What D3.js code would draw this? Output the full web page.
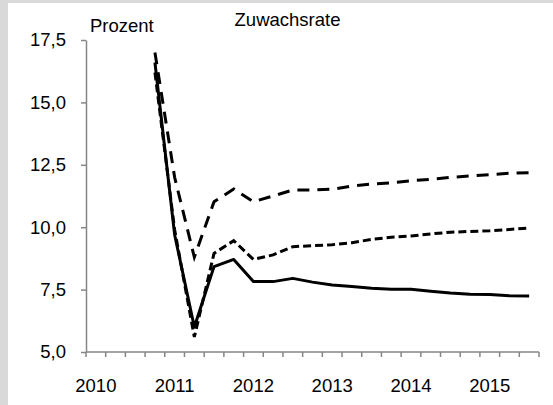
<!DOCTYPE html>
<html><head><meta charset="utf-8">
<script src="https://cdn.jsdelivr.net/npm/d3@7"></script>
<style>
html,body{margin:0;padding:0;background:#d9d9d9;}
svg{display:block;}
text{font-family:"Liberation Sans",Arial,sans-serif;fill:#000;}
</style></head>
<body>
<svg id="c" width="553" height="405"></svg>
<script>
// quarters 2010Q1 .. 2015Q3
const years = [2010, 2011, 2012, 2013, 2014, 2015];
const quarters = [];
years.forEach(yr => [1,2,3,4].forEach(q => { if (!(yr === 2015 && q === 4)) quarters.push(yr + "Q" + q); }));
const yTicks = [5.0, 7.5, 10.0, 12.5, 15.0, 17.5];
// series start at 2010Q4
const startIndex = 3;
const seriesSolid = [16.6, 9.7, 6.0, 8.42, 8.71, 7.82, 7.82, 7.95, 7.8, 7.68, 7.62, 7.55, 7.51, 7.51, 7.43, 7.36, 7.31, 7.3, 7.25, 7.24];
const seriesShort = [16.2, 9.9, 5.6, 8.95, 9.46, 8.71, 8.89, 9.22, 9.26, 9.3, 9.38, 9.51, 9.6, 9.65, 9.73, 9.8, 9.83, 9.86, 9.91, 9.97];
const seriesLong  = [17.0, 12.0, 8.8, 11.02, 11.53, 11.02, 11.25, 11.49, 11.49, 11.52, 11.65, 11.73, 11.78, 11.86, 11.92, 12.0, 12.05, 12.1, 12.16, 12.18];

(function () {
const FS = 18.5;
const svg = d3.select("#c");
svg.append("rect").attr("x", 8).attr("y", 3).attr("width", 545).attr("height", 402).attr("fill", "#fff");

const mLeft = 86, mRight = 539, mTop = 40, mBottom = 352;
const x = d3.scaleBand().domain(quarters).range([mLeft, mRight]).padding(0);
const y = d3.scaleLinear().domain([5, 17.5]).range([mBottom, mTop]);
const fmt = d => d3.format(".1f")(d).replace(".", ",");

// y axis
const ya = svg.append("g").attr("transform", `translate(${mLeft},0)`)
  .call(d3.axisLeft(y).tickValues(yTicks).tickFormat(fmt).tickSize(5).tickSizeOuter(0).tickPadding(15));
ya.select(".domain").attr("stroke", "#868686").attr("stroke-width", 1.5);
ya.selectAll(".tick line").attr("stroke", "#868686").attr("stroke-width", 1.5);
ya.selectAll(".tick text").attr("font-size", FS).attr("font-family", "Liberation Sans, Arial, sans-serif").attr("fill", "#000");

// x axis with tick at each category boundary
const xa = svg.append("g").attr("transform", `translate(0,${mBottom})`);
xa.append("line").attr("x1", mLeft).attr("x2", mRight).attr("y1", 0).attr("y2", 0)
  .attr("stroke", "#868686").attr("stroke-width", 1.5);
const bounds = quarters.map(q => x(q)).concat([x(quarters[quarters.length - 1]) + x.bandwidth()]);
xa.selectAll("line.t").data(bounds).enter().append("line").attr("class", "t")
  .attr("x1", d => d).attr("x2", d => d).attr("y1", 0).attr("y2", 5)
  .attr("stroke", "#868686").attr("stroke-width", 1.5);
xa.selectAll("text.yl").data(years).enter().append("text").attr("class", "yl")
  .attr("x", d => x(d + "Q1") + x.bandwidth() / 2).attr("y", 40)
  .attr("text-anchor", "middle").attr("font-size", FS).text(d => d);

// lines
const line = d3.line().x(d => x(d.q) + x.bandwidth() / 2).y(d => y(d.v));
function mk(arr) { return arr.map((v, i) => ({ q: quarters[startIndex + i], v })); }
const g = svg.append("g");
g.append("path").datum(mk(seriesShort)).attr("d", line).attr("fill", "none")
  .attr("stroke", "#000").attr("stroke-width", 3).attr("stroke-dasharray", "8,4");
g.append("path").datum(mk(seriesLong)).attr("d", line).attr("fill", "none")
  .attr("stroke", "#000").attr("stroke-width", 3).attr("stroke-dasharray", "12,8");
g.append("path").datum(mk(seriesSolid)).attr("d", line).attr("fill", "none")
  .attr("stroke", "#000").attr("stroke-width", 3).attr("stroke-linejoin", "round");

// labels
svg.append("text").attr("x", 90).attr("y", 31.5).attr("font-size", FS).text("Prozent");
svg.append("text").attr("x", 287.5).attr("y", 25.5).attr("text-anchor", "middle").attr("font-size", FS).text("Zuwachsrate");
})();
</script>
</body></html>
